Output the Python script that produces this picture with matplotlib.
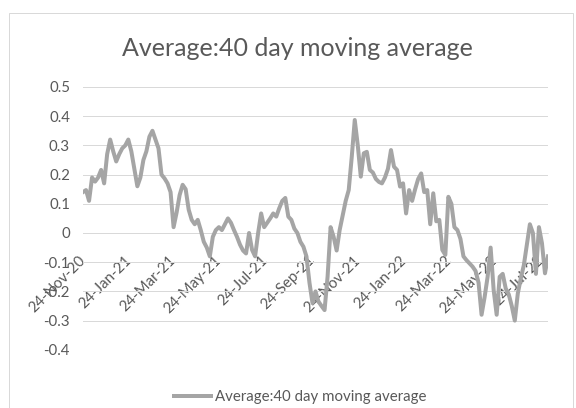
import matplotlib
matplotlib.use("Agg")
import matplotlib.pyplot as plt
import matplotlib.dates as mdates
import matplotlib.patches as patches
from matplotlib.transforms import ScaledTranslation
import pandas as pd

# values, one every 4 days from 24-Nov-20
start_date = "2020-11-24"
step = "4D"
avg40 = [
    0.14, 0.147, 0.11, 0.19, 0.176, 0.19, 0.216, 0.17, 0.27, 0.32,
    0.28, 0.245, 0.27, 0.29, 0.30, 0.32, 0.28, 0.22, 0.16, 0.19,
    0.25, 0.28, 0.33, 0.35, 0.32, 0.29, 0.20, 0.187, 0.17, 0.14,
    0.02, 0.07, 0.13, 0.165, 0.15, 0.08, 0.045, 0.03, 0.045, 0.01,
    -0.03, -0.05, -0.08, -0.013, 0.01, 0.02, 0.01, 0.03, 0.05, 0.035,
    0.01, -0.013, -0.04, -0.06, -0.07, 0.0, -0.058, -0.08, 0.0, 0.067,
    0.02, 0.035, 0.05, 0.067, 0.056, 0.085, 0.11, 0.12, 0.056, 0.045,
    0.015, 0.0, -0.03, -0.047, -0.08, -0.17, -0.24, -0.2, -0.235, -0.25,
    -0.264, -0.15, 0.02, -0.013, -0.06, 0.01, 0.06, 0.11, 0.147, 0.26,
    0.387, 0.3, 0.193, 0.273, 0.278, 0.216, 0.207, 0.185, 0.175, 0.17,
    0.19, 0.22, 0.284, 0.227, 0.216, 0.159, 0.17, 0.067, 0.147, 0.11,
    0.15, 0.185, 0.204, 0.14, 0.147, 0.03, 0.136, 0.04, 0.045, -0.058,
    -0.075, 0.124, 0.1, 0.02, 0.01, -0.02, -0.08, -0.093, -0.104, -0.115,
    -0.13, -0.17, -0.28, -0.22, -0.15, -0.05, -0.195, -0.28, -0.15, -0.14,
    -0.19, -0.21, -0.25, -0.30, -0.207, -0.155, -0.11, -0.04, 0.03, 0.0,
    -0.14, 0.02, -0.035, -0.138, -0.08,
]
y_ticks = [-0.4, -0.3, -0.2, -0.1, 0, 0.1, 0.2, 0.3, 0.4, 0.5]
title = "Average:40 day moving average"

dates = pd.date_range(start_date, periods=len(avg40), freq=step)

plt.rcParams["font.family"] = ["Lato", "DejaVu Sans"]
text_col = "#595959"
grid_col = "#d9d9d9"
line_col = "#a5a5a5"

fig = plt.figure(figsize=(8, 408 / 72), dpi=72)
ax = fig.add_axes([83 / 576, 1 - 349.8 / 408, 465 / 576, 262.8 / 408])

ax.plot(dates, avg40, color=line_col, lw=4, zorder=3, label=title)

ax.set_ylim(-0.4, 0.5)
ax.set_xlim(dates[0], dates[-1])
ax.set_yticks(y_ticks)
ax.set_yticklabels([f"{v:g}" for v in y_ticks])
ax.grid(axis="y", color=grid_col, lw=1)
ax.set_axisbelow(True)

for s in ["top", "right", "left"]:
    ax.spines[s].set_visible(False)
ax.spines["bottom"].set_position(("data", 0))
ax.spines["bottom"].set_color(grid_col)

ax.xaxis.set_major_locator(mdates.MonthLocator(bymonth=[1, 3, 5, 7, 9, 11], bymonthday=24))
ax.xaxis.set_major_formatter(mdates.DateFormatter("%d-%b-%y"))
ax.tick_params(axis="x", length=0, pad=20, labelsize=15, labelcolor=text_col)
ax.tick_params(axis="y", length=0, pad=13, labelsize=15, labelcolor=text_col)
shift = ScaledTranslation(5 / 72, 0, fig.dpi_scale_trans)
for lab in ax.get_xticklabels():
    lab.set_rotation(45)
    lab.set_ha("right")
    lab.set_transform(lab.get_transform() + shift)

fig.text(297 / 576, 1 - 48 / 408, title, ha="center", va="center",
         fontsize=25, color=text_col)

fig.legend(loc="center", bbox_to_anchor=(300 / 576, 1 - 397 / 408), frameon=False,
           fontsize=15, labelcolor=text_col, handlelength=2.5, handletextpad=0.25)

# chart area border
fig.patches.append(patches.Rectangle((9 / 576, -0.02), 564 / 576, 1 - 13 / 408 + 0.02,
                                     transform=fig.transFigure, fill=False,
                                     edgecolor=grid_col, lw=1))

fig.savefig("out.png", dpi=72)
